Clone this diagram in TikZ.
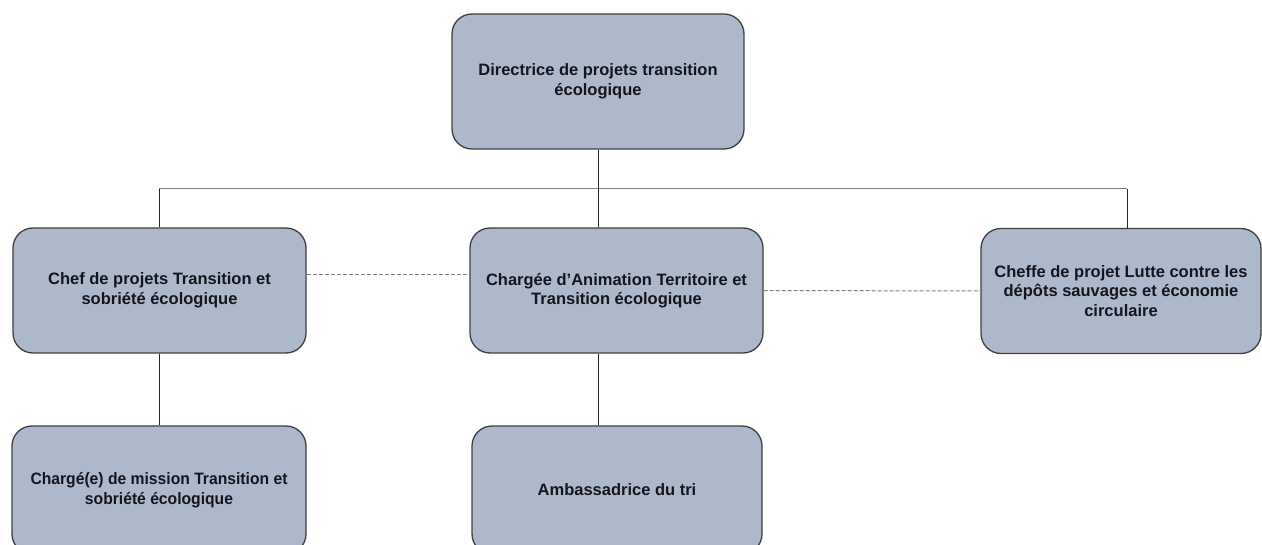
\documentclass[tikz,border=0pt]{standalone}
\usepackage{fontspec}
\setmainfont{Liberation Sans}
\newfontfamily\narrowsans[FakeStretch=0.95]{Liberation Sans}
\definecolor{boxfill}{HTML}{ADB9CA}
\definecolor{boxline}{HTML}{404040}
\definecolor{boxtext}{HTML}{15151F}
\tikzstyle{post}=[draw=boxline,line width=1.3pt,fill=boxfill,rounded corners=20pt,
  align=center,inner sep=0pt,text=boxtext,minimum height=125pt,
  font=\fontsize{16.5}{19.5}\selectfont\bfseries]
\tikzstyle{link}=[line width=1pt,black!85]
\tikzstyle{bus}=[line width=1pt,gray]
\tikzstyle{dotlink}=[line width=1pt,gray,dash pattern=on 4pt off 2pt]

\begin{document}
\begin{tikzpicture}[x=1pt,y=-1pt]
    \useasboundingbox (0,0) rectangle (1262,545);
    \clip (0,0) rectangle (1262,545);

    \node[post,minimum width=292pt,minimum height=135pt] (dir) at (598,81.5)
      {Directrice de projets transition\\écologique};
    \node[post,minimum width=293pt] (chef) at (159.5,290.5)
      {Chef de projets Transition et\\sobriété écologique};
    \node[post,minimum width=293pt] (anim) at (616.5,290.5)
      {Chargée d’Animation Territoire et\\Transition écologique};
    \node[post,minimum width=280pt] (lutte) at (1121,291)
      {Cheffe de projet Lutte contre les\\dépôts sauvages et économie\\circulaire};
    \node[post,minimum width=294pt,minimum height=128pt,
      font=\fontsize{16.5}{19.5}\narrowsans\bfseries] (mission) at (159,490)
      {Chargé(e) de mission Transition et\\sobriété écologique};
    \node[post,minimum width=290pt,minimum height=128pt] (tri) at (617,490)
      {Ambassadrice du tri};

    \coordinate (busL) at (159,189);
    \coordinate (busR) at (1127,189);
    \draw[bus] (busL) -- (busR);
    \draw[link] (dir) -- (dir |- busL);
    \draw[link] (dir |- busL) -- (dir |- anim.north);
    \draw[link] (busL) -- (busL |- chef.north);
    \draw[link] (busR) -- (busR |- lutte.north);
    \draw[link] (busL |- chef.south) -- (busL |- mission.north);
    \draw[link] (dir |- anim.south) -- (dir |- tri.north);
    \draw[dotlink] ([yshift=15.5pt]chef.east) -- ([yshift=15.5pt]anim.west);
    \draw[dotlink] (anim.east) -- (lutte.west);
\end{tikzpicture}
\end{document}
